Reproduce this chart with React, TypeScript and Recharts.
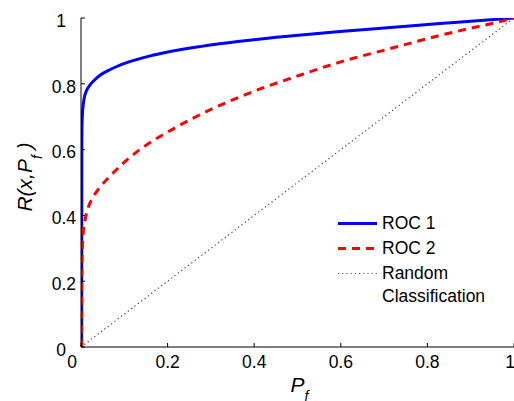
import { LineChart, Line, XAxis, YAxis } from "recharts";

// --- values ---

const pfTicks = [0, 0.2, 0.4, 0.6, 0.8, 1];
const rTicks = [0, 0.2, 0.4, 0.6, 0.8, 1];

const roc1Pf = [0.0015, 0.002, 0.003, 0.005, 0.008, 0.013, 0.02, 0.03, 0.044, 0.07, 0.09, 0.124, 0.16, 0.198, 0.275, 0.367, 0.483, 0.598, 0.714, 0.829, 0.9, 1];
const roc1R = [0, 0.64, 0.7, 0.735, 0.76, 0.78, 0.795, 0.81, 0.826, 0.845, 0.857, 0.872, 0.885, 0.896, 0.913, 0.929, 0.945, 0.959, 0.971, 0.983, 0.99, 1];

const roc2Pf = [0.0015, 0.002, 0.003, 0.005, 0.01, 0.017, 0.03, 0.044, 0.069, 0.097, 0.139, 0.17, 0.209, 0.3, 0.367, 0.425, 0.483, 0.598, 0.714, 0.829, 0.9, 0.968, 1];
const roc2R = [0, 0.22, 0.29, 0.345, 0.39, 0.425, 0.46, 0.486, 0.522, 0.558, 0.603, 0.63, 0.66, 0.722, 0.76, 0.79, 0.816, 0.866, 0.907, 0.947, 0.969, 0.989, 1];

const randomPf = [0, 1];
const randomR = [0, 1];

const seriesNames = ["ROC 1", "ROC 2", "Random Classification"];

const zip = (pf: number[], r: number[]) => pf.map((p, i) => ({ pf: p, r: r[i] }));

const roc1Data = zip(roc1Pf, roc1R);
const roc2Data = zip(roc2Pf, roc2R);
const randomData = zip(randomPf, randomR);

const FONT = '"Liberation Sans", Arial, Helvetica, sans-serif';

// corner labels (0 and 1) are nudged like matlab does
function XTick({ x, y, payload }: any) {
  const dx = payload.value === 0 ? -9 : 0;
  return (
    <text x={x + dx} y={y} dy="0.71em" textAnchor="middle" fontSize={17.5} fontFamily={FONT} fill="#000">
      {payload.value}
    </text>
  );
}

function YTick({ x, y, payload }: any) {
  const corner = payload.value === 0 || payload.value === 1;
  return (
    <text x={corner ? 61 : x} y={y} dy="0.5em" textAnchor={corner ? "middle" : "end"} fontSize={17.5} fontFamily={FONT} fill="#000">
      {payload.value}
    </text>
  );
}

function XLabel({ viewBox }: any) {
  const cx = viewBox.x + viewBox.width / 2 - 7;
  return (
    <text x={cx} y={392} fontSize={21} fontStyle="italic" fontFamily={FONT} fill="#000">
      P<tspan dy={9} fontSize={14}>f</tspan>
    </text>
  );
}

function YLabel() {
  const cx = 32;
  const cy = 177;
  return (
    <text x={cx} y={cy} transform={`rotate(-90 ${cx} ${cy})`} textAnchor="middle" fontSize={21} fontStyle="italic" fontFamily={FONT} fill="#000">
      R(x,P<tspan dy={10} fontSize={14}>f</tspan>
      <tspan dy={-10} fontSize={21}> )</tspan>
    </text>
  );
}

const legendStyles = [
  { stroke: "#0000ff", dash: undefined, width: 3 },
  { stroke: "#ff0000", dash: "8 6", width: 3 },
  { stroke: "#555", dash: "1.2 3", width: 1.2 },
];

function LegendBox() {
  return (
    <div style={{ position: "absolute", left: 336, top: 211.5, width: 178, fontFamily: FONT, fontSize: 17.5, color: "#000" }}>
      {seriesNames.map((name, i) => (
        <div key={name} style={{ display: "flex", alignItems: "flex-start", height: 25 }}>
          <svg width={44} height={23}>
            <line x1={2} x2={41} y1={11.5} y2={11.5} stroke={legendStyles[i].stroke} strokeWidth={legendStyles[i].width} strokeDasharray={legendStyles[i].dash} />
          </svg>
          <div style={{ marginLeft: 2, lineHeight: "23px", whiteSpace: "pre-line" }}>
            {name === "Random Classification" ? "Random\nClassification" : name}
          </div>
        </div>
      ))}
    </div>
  );
}

export default function App() {
  return (
    <div style={{ position: "absolute", left: 0, top: 0, width: 514, height: 401, background: "#fff" }}>
      <LineChart width={514} height={401} margin={{ top: 18, right: 0, bottom: 0, left: 0 }}>
        <XAxis
          type="number"
          dataKey="pf"
          domain={[0, 1]}
          ticks={pfTicks}
          height={54}
          stroke="#000"
          tickSize={-4}
          tickMargin={13}
          tick={<XTick />}
          label={<XLabel />}
          allowDataOverflow
        />
        <YAxis
          type="number"
          dataKey="r"
          domain={[0, 1]}
          ticks={rTicks}
          width={81}
          stroke="#000"
          tickSize={-4}
          tickMargin={9}
          tick={<YTick />}
          label={<YLabel />}
          allowDataOverflow
        />
        <Line data={randomData} dataKey="r" name={seriesNames[2]} type="linear" stroke="#444" strokeWidth={1.2} strokeDasharray="1.2 3" dot={false} activeDot={false} isAnimationActive={false} />
        <Line data={roc1Data} dataKey="r" name={seriesNames[0]} type="monotone" stroke="#0000ff" strokeWidth={3} dot={false} activeDot={false} isAnimationActive={false} />
        <Line data={roc2Data} dataKey="r" name={seriesNames[1]} type="monotone" stroke="#ff0000" strokeWidth={3} strokeDasharray="8 6" dot={false} activeDot={false} isAnimationActive={false} />
      </LineChart>
      <LegendBox />
    </div>
  );
}
